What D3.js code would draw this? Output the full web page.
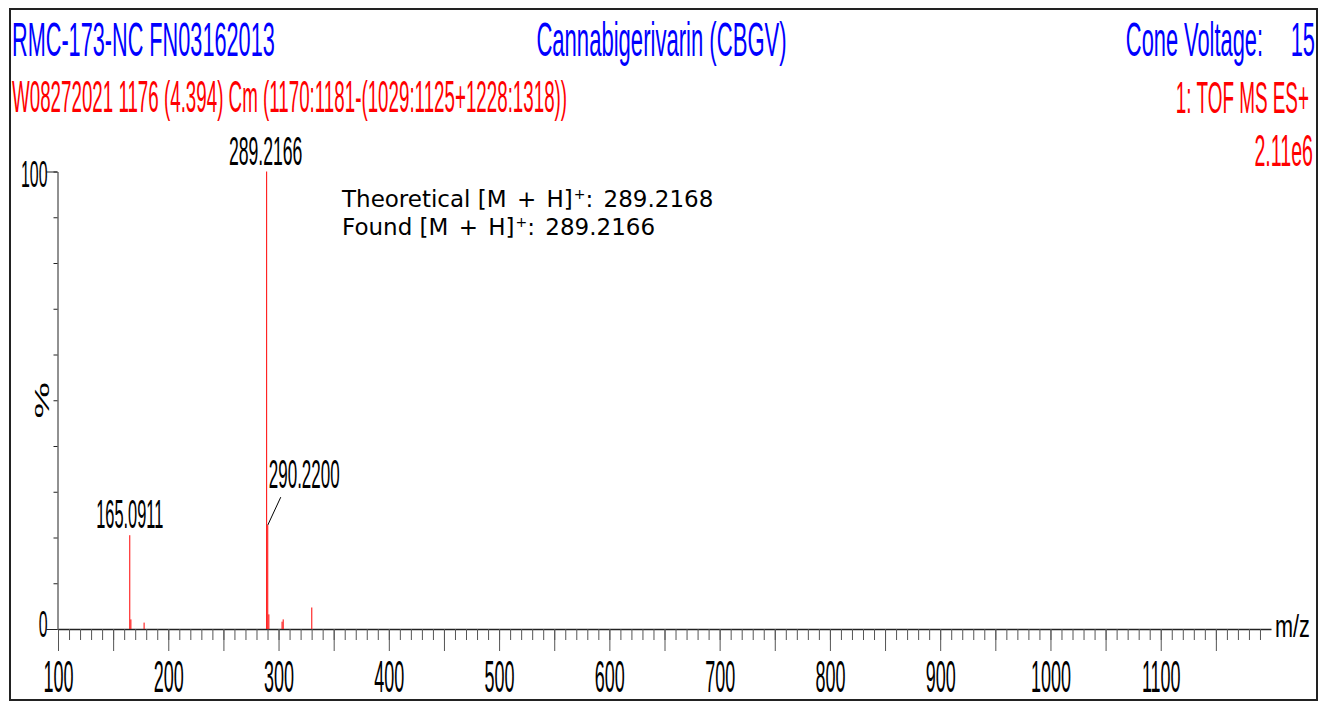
<!DOCTYPE html>
<html>
<head>
<meta charset="utf-8">
<script src="https://cdn.jsdelivr.net/npm/d3@7"></script>
<style>
  html, body { margin: 0; padding: 0; background: #fff; }
  svg { display: block; }
</style>
</head>
<body>
<svg id="chart" width="1321" height="705"></svg>
<script>
// ---------------- data ----------------
const peakMz        = [165.0911, 166.0945, 178.08, 289.2166, 290.2200, 291.2230, 303.20, 304.21, 330.15];
const peakIntensity = [20.5,     2.1,      1.4,    100,      22.7,     3.2,      1.6,    2.1,    4.7];
const labelledPeaks = ["165.0911", "289.2166", "290.2200"];
const xTickLabels   = [100, 200, 300, 400, 500, 600, 700, 800, 900, 1000, 1100];
const yTickLabels   = [0, 100];
const titleLeft     = "RMC-173-NC FN03162013";
const titleCenter   = "Cannabigerivarin (CBGV)";
const coneLabel     = "Cone Voltage:";
const coneValue     = "15";
const scanInfo      = "W08272021 1176 (4.394) Cm (1170:1181-(1029:1125+1228:1318))";
const modeInfo      = "1: TOF MS ES+";
const maxIntensity  = "2.11e6";
const theoLine      = ["Theoretical ", "[M + H]", "+", ": 289.2168"];
const foundLine     = ["Found ", "[M + H]", "+", ": 289.2166"];

// ---------------- drawing ----------------
const svg = d3.select("#chart");
const FONT = "'Liberation Sans', Arial, sans-serif";

svg.append("rect").attr("x", 10).attr("y", 9).attr("width", 1307).attr("height", 691)
  .attr("fill", "none").attr("stroke", "#222").attr("stroke-width", 2);

function txt(s, x, y, size, sx, anchor, color) {
  return svg.append("text")
    .attr("transform", `translate(${x},${y}) scale(${sx},1)`)
    .attr("text-anchor", anchor)
    .attr("font-family", FONT)
    .attr("font-size", size)
    .attr("fill", color)
    .text(s);
}

const BLUE = "#0000ff", RED = "#ff0000";
txt(titleLeft, 12, 56, 48, 0.452, "start", BLUE);
txt(titleCenter, 661.5, 56, 48, 0.46, "middle", BLUE);
txt(coneLabel, 1263, 56, 48, 0.455, "end", BLUE);
txt(coneValue, 1315, 56, 48, 0.455, "end", BLUE);
txt(scanInfo, 12, 112, 45, 0.417, "start", RED);
txt(modeInfo, 1309, 113, 45, 0.42, "end", RED);
txt(maxIntensity, 1313, 166, 45, 0.436, "end", RED);

// scales
const x = d3.scaleLinear().domain([100, 1200]).range([58, 1271]);
const y = d3.scaleLinear().domain([0, 100]).range([629, 171.5]);

// x axis: minor ticks
const gx = svg.append("g").attr("transform", `translate(0,${y(0)})`);
gx.append("g").call(d3.axisBottom(x).tickValues(d3.range(100, 1200, 10)).tickSize(11).tickSizeOuter(0).tickFormat(""))
  .call(g => g.selectAll(".tick line").attr("stroke", "#555"))
  .call(g => g.select(".domain").attr("stroke", "#222").attr("stroke-width", 1.3));
gx.append("g").call(d3.axisBottom(x).tickValues(d3.range(100, 1200, 50)).tickSize(22).tickSizeOuter(0)
    .tickFormat(d => xTickLabels.includes(d) ? String(d) : ""))
  .call(g => g.select(".domain").remove())
  .call(g => g.selectAll(".tick line").attr("stroke", "#555"))
  .call(g => g.selectAll(".tick text")
     .attr("y", 63).attr("dy", null)
     .attr("font-family", FONT).attr("font-size", 45).attr("fill", "#000")
     .attr("transform", "scale(0.40,1)"));

// y axis
const gy = svg.append("g").attr("transform", `translate(${x(100) - 0.5},0)`);
gy.append("g").call(d3.axisLeft(y).tickValues(d3.range(0, 101, 10)).tickSize(4).tickSizeOuter(0).tickFormat(""))
  .call(g => g.select(".domain").attr("stroke", "#222"))
  .call(g => g.selectAll(".tick line").attr("stroke", "#222"));
gy.append("g").call(d3.axisLeft(y).tickValues(yTickLabels).tickSize(11).tickSizeOuter(0))
  .call(g => g.select(".domain").remove())
  .call(g => g.selectAll(".tick text")
     .attr("x", -10 / 0.43).attr("dy", null)
     .attr("y", d => d === 0 ? 7 : 15)
     .attr("font-family", FONT).attr("font-size", 37).attr("fill", "#000")
     .attr("transform", "scale(0.43,1)")
     .attr("text-anchor", "end"))
  .call(g => g.selectAll(".tick line").attr("stroke", "#222"));

// % label
svg.append("text")
  .attr("transform", `translate(49,${y(50)}) rotate(-90) scale(1.95,1)`)
  .attr("text-anchor", "middle")
  .attr("font-family", FONT).attr("font-size", 21).attr("fill", "#000")
  .text("%");

// m/z label
txt("m/z", 1275, 637, 31, 0.7, "start", "#000");

// peaks
const peaks = peakMz.map((m, i) => ({ mz: m, v: peakIntensity[i] }));
svg.append("g").selectAll("line").data(peaks).join("line")
  .attr("x1", d => x(d.mz)).attr("x2", d => x(d.mz))
  .attr("y1", y(0)).attr("y2", d => y(d.v))
  .attr("stroke", RED).attr("stroke-width", 1);

// peak labels
const byLabel = Object.fromEntries(peaks.map(p => [p.mz.toFixed(4), p]));
const p165 = byLabel[labelledPeaks[0]], p289 = byLabel[labelledPeaks[1]], p290 = byLabel[labelledPeaks[2]];
txt(labelledPeaks[0], x(p165.mz), y(p165.v) - 7, 41, 0.40, "middle", "#000");
txt(labelledPeaks[1], x(p289.mz) - 1, 165, 41, 0.43, "middle", "#000");
txt(labelledPeaks[2], x(p290.mz) + 1, y(p290.v) - 37, 41, 0.415, "start", "#000");
svg.append("line")
  .attr("x1", x(p290.mz)).attr("y1", y(p290.v))
  .attr("x2", x(p290.mz) + 13).attr("y2", y(p290.v) - 28)
  .attr("stroke", "#000").attr("stroke-width", 1);

// annotation
function annot(parts, yy) {
  const t = svg.append("text").attr("x", 342).attr("y", yy).attr("xml:space", "preserve")
    .attr("font-family", "'DejaVu Sans', Verdana, sans-serif").attr("font-size", 23).attr("fill", "#000");
  t.append("tspan").text(parts[0]);
  t.append("tspan").style("word-spacing", "3px").text(parts[1]);
  t.append("tspan").attr("font-size", 14).attr("dy", -8).attr("dx", 1).text(parts[2]);
  t.append("tspan").attr("dy", 8).style("word-spacing", "3px").text(parts[3]);
}
annot(theoLine, 207);
annot(foundLine, 235);
</script>
</body>
</html>
